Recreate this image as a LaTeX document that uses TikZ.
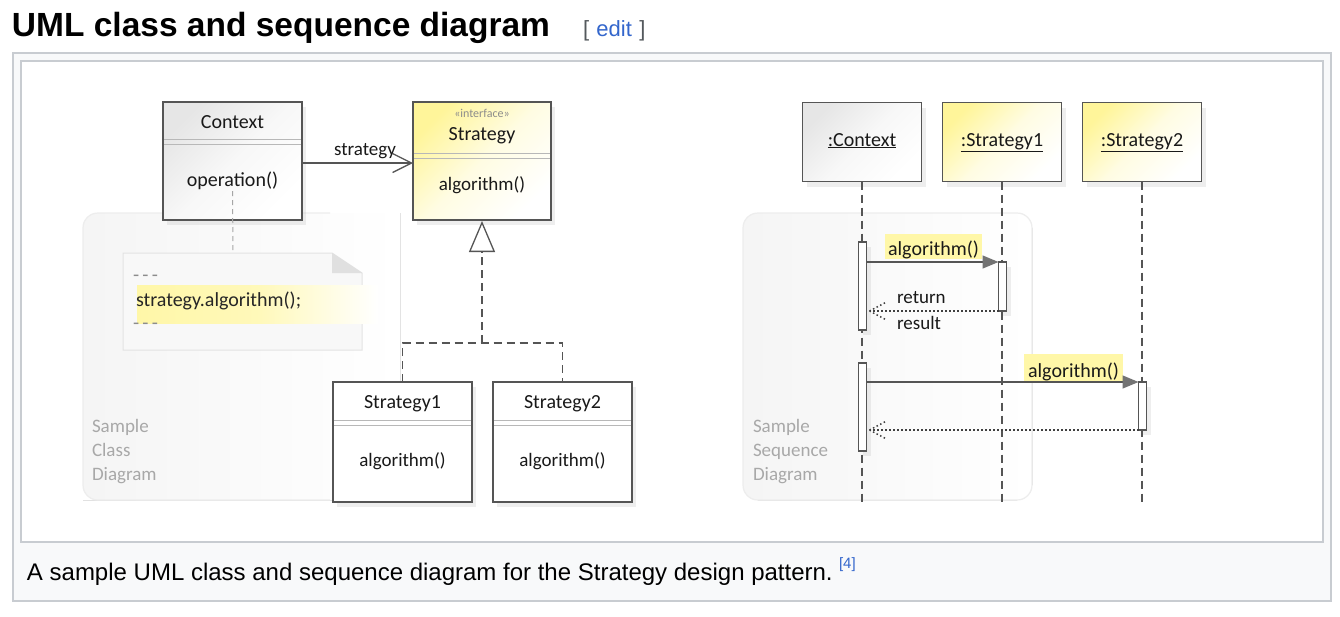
\documentclass[tikz,border=0pt]{standalone}
\usepackage{fontspec}
\setmainfont{Liberation Sans}
\newfontfamily\umlfont{Carlito}
\usetikzlibrary{arrows.meta,shadows,calc}
\definecolor{frameborder}{HTML}{C8CCD1}
\definecolor{framebg}{HTML}{F8F9FA}
\definecolor{linkblue}{HTML}{3366CC}
\definecolor{bracketgray}{HTML}{54595D}
\definecolor{umlline}{HTML}{555555}
\definecolor{ifyellow}{HTML}{FFF59A}
\definecolor{ctxgray}{HTML}{E6E6E6}
\definecolor{hlyellow}{HTML}{FFF7A8}
\definecolor{paneltext}{HTML}{A8A8A8}
\definecolor{notefill}{HTML}{F8F8F8}
\definecolor{noteline}{HTML}{E3E3E3}
\newcommand\umlsize[1]{\umlfont\fontsize{#1}{#1}\selectfont}
\begin{document}
\begin{tikzpicture}[x=1pt,y=-1pt,
  every node/.style={inner sep=0pt,outer sep=0pt},
  softshadow/.style={drop shadow={opacity=0.13,shadow xshift=4pt,shadow yshift=-5pt}},
  classbox/.style={draw=umlline,line width=1.3pt,minimum width=139pt,minimum height=118pt,softshadow},
  seqhead/.style={draw=umlline,line width=1.3pt,minimum width=119pt,minimum height=79pt,softshadow},
  grayshade/.style={top color=ctxgray,bottom color=white,middle color=ctxgray!30!white,shading angle=45},
  yellowshade/.style={top color=ifyellow,bottom color=white,middle color=ifyellow!28!white,shading angle=45},
  divider/.style={draw=black!28,line width=1pt},
  umltext/.style={font=\umlsize{20},text=black!90,anchor=base},
  smalltext/.style={font=\umlsize{19},text=black!90,anchor=base},
  paneltxt/.style={font=\umlsize{19},text=paneltext,anchor=base west},
  panel/.style={draw=black!7,line width=1.2pt,rounded corners=15pt},
  assoc/.style={draw=umlline,line width=1.3pt,-{Straight Barb[length=19pt,width=19pt,line width=1.3pt]}},
  realiz/.style={draw=umlline,line width=1.3pt,dash pattern=on 8pt off 5pt},
  lifeline/.style={draw=umlline,line width=1.3pt,dash pattern=on 8pt off 5pt},
  actbar/.style={draw=umlline,fill=white,line width=1.2pt,minimum width=8pt,softshadow},
  msgline/.style={draw=umlline,line width=1.3pt,-{Triangle[length=16pt,width=13pt,fill=black!55,color=black!55]}},
  retline/.style={draw=black!75,line width=1.5pt,dash pattern=on 1.5pt off 2.5pt},
  notelink/.style={draw=black!35,line width=1pt,dash pattern=on 5pt off 4pt},
  hlbox/.style={fill=hlyellow,minimum height=26pt}
]
\useasboundingbox (0,0) rectangle (1340,616);
\fill[white] (0,0) rectangle (1340,616);

% page frame
\node[anchor=base west,font=\fontsize{33.5}{38}\selectfont\bfseries] (title) at (12,36) {UML class and sequence diagram};
\node[anchor=base west,font=\fontsize{22}{26}\selectfont] (edit) at (583,36) {\textcolor{bracketgray}{[}\,\,\textcolor{linkblue}{edit}\,\,\textcolor{bracketgray}{]}};
\draw[frameborder,fill=framebg,line width=2pt] (13,53) rectangle (1331,601);
\draw[frameborder,fill=white,line width=2pt] (21,61) rectangle (1323,542);
\node[anchor=base west,font=\fontsize{24}{28}\selectfont] (caption) at (27,580) {A sample UML class and sequence diagram for the Strategy design pattern.};
\node[anchor=base west,font=\fontsize{15}{18}\selectfont,text=linkblue] (ref) at (839,568) {[4]};

% background panels
\fill[left color=black!4,right color=white] (400,213) -- (98,213) [rounded corners=15pt] -- (83,213) -- (83,500) -- (98,500) [sharp corners] -- (400,500) -- cycle;
\draw[panel] (330,213) -- (83,213) -- (83,500) -- (330,500);
\node[paneltxt] (cp1) at (92,432) {Sample};
\node[paneltxt] (cp2) at (92,456) {Class};
\node[paneltxt] (cp3) at (92,480) {Diagram};

\fill[left color=black!4,right color=white,rounded corners=15pt] (743,213) rectangle (1032,500);
\draw[panel] (743,213) rectangle (1032,500);
\node[paneltxt] (sp1) at (753,432) {Sample};
\node[paneltxt] (sp2) at (753,456) {Sequence};
\node[paneltxt] (sp3) at (753,480) {Diagram};

% note
\draw[noteline,fill=notefill,line width=1pt] (123,253) -- (332,253) -- (362,273) -- (362,350) -- (123,350) -- cycle;
\fill[black!12] (332,253) -- (332,273) -- (362,273) -- cycle;
\fill[left color=hlyellow,right color=white,middle color=hlyellow!80!white] (137,285) rectangle (378,323);
\node[anchor=base west,font=\umlsize{20},text=black!45] (nd1) at (133,281) {-\,-\,-};
\node[anchor=base west,font=\umlsize{20},text=black!85] (ncode) at (136,306) {strategy.algorithm();};
\node[anchor=base west,font=\umlsize{20},text=black!45] (nd2) at (133,329) {-\,-\,-};
\coordinate (notetop) at (233,253);

% class diagram
\node[classbox,grayshade] (ctx) at (232.5,161) {};
\node[umltext] (ctxname) at (232.5,128) {Context};
\draw[divider] ($(ctx.north west)+(1,37)$) -- ($(ctx.north east)+(-1,37)$);
\draw[divider] ($(ctx.north west)+(1,42)$) -- ($(ctx.north east)+(-1,42)$);
\node[umltext] (op) at (232.5,186) {operation()};

\node[classbox,yellowshade,minimum width=138pt] (strat) at (482,161) {};
\node[umltext,font=\umlsize{12},text=black!45] (stereo) at (482,117) {«interface»};
\node[umltext] (stratname) at (482,140) {Strategy};
\draw[divider] ($(strat.north west)+(1,51)$) -- ($(strat.north east)+(-1,51)$);
\draw[divider] ($(strat.north west)+(1,56)$) -- ($(strat.north east)+(-1,56)$);
\node[smalltext] (salg) at (482,190) {algorithm()};

\node[classbox,fill=white,minimum height=120pt] (s1) at (402.5,442) {};
\node[umltext] (s1name) at (402.5,408) {Strategy1};
\draw[divider] ($(s1.north west)+(1,38)$) -- ($(s1.north east)+(-1,38)$);
\draw[divider] ($(s1.north west)+(1,43)$) -- ($(s1.north east)+(-1,43)$);
\node[smalltext] (s1alg) at (402.5,466) {algorithm()};

\node[classbox,fill=white,minimum height=120pt] (s2) at (562.5,442) {};
\node[umltext] (s2name) at (562.5,408) {Strategy2};
\draw[divider] ($(s2.north west)+(1,38)$) -- ($(s2.north east)+(-1,38)$);
\draw[divider] ($(s2.north west)+(1,43)$) -- ($(s2.north east)+(-1,43)$);
\node[smalltext] (s2alg) at (562.5,466) {algorithm()};

\draw[notelink] ($(op.base)+(0,5)$) -- (notetop);
\draw[assoc] ($(ctx.east)+(0,2)$) -- ($(strat.west)+(0,2)$);
\node[smalltext] (assoclabel) at (365,155) {strategy};

\coordinate (junc) at (482,343);
\draw[realiz] (s1.north) |- (junc) -| (s2.north);
\draw[realiz,-{Triangle[open,length=31pt,width=26pt,fill=white,line width=1.3pt]}] (junc) -- ($(strat.south)+(0,1)$);

% sequence diagram
\node[seqhead,grayshade] (lc) at (862,142) {};
\node[umltext] (lcname) at (862,146) {\underline{:Context}};
\node[seqhead,yellowshade] (l1) at (1002,142) {};
\node[umltext] (l1name) at (1002,146) {\underline{:Strategy1}};
\node[seqhead,yellowshade] (l2) at (1142,142) {};
\node[umltext] (l2name) at (1142,146) {\underline{:Strategy2}};

\coordinate (lcend) at (862,503);
\coordinate (l1end) at (1002,503);
\coordinate (l2end) at (1142,503);
\draw[lifeline] (lc.south) -- (lcend);
\draw[lifeline] (l1.south) -- (l1end);
\draw[lifeline] (l2.south) -- (l2end);

\node[actbar,minimum height=88pt] (a1) at (862.5,286) {};
\node[actbar,minimum height=49pt] (b1) at (1002.5,286.5) {};
\node[actbar,minimum height=88pt] (a2) at (862.5,407) {};
\node[actbar,minimum height=48pt] (b2) at (1142.5,406) {};

\node[hlbox,minimum width=97pt,minimum height=25pt] (m1hl) at (933.5,246.5) {};
\node[umltext] (m1label) at (933.5,255) {algorithm()};
\draw[msgline] (a1.east |- b1.north) -- (b1.north west);

\coordinate (r1tip) at ($(a1.east |- b1.south)+(3,0)$);
\draw[retline] (b1.south west) -- (r1tip);
\draw[retline] (r1tip) -- ++(17,-9);
\draw[retline] (r1tip) -- ++(17,9);
\node[smalltext,anchor=base west] (r1a) at (897,303) {return};
\node[smalltext,anchor=base west] (r1b) at (897,329) {result};

\node[hlbox,minimum width=99pt,minimum height=28pt] (m2hl) at (1073.5,368) {};
\node[umltext] (m2label) at (1073.5,377) {algorithm()};
\draw[msgline] (a2.east |- b2.north) -- (b2.north west);

\coordinate (r2tip) at ($(a2.east |- b2.south)+(3,0)$);
\draw[retline] (b2.south west) -- (r2tip);
\draw[retline] (r2tip) -- ++(17,-9);
\draw[retline] (r2tip) -- ++(17,9);
\end{tikzpicture}
\end{document}
